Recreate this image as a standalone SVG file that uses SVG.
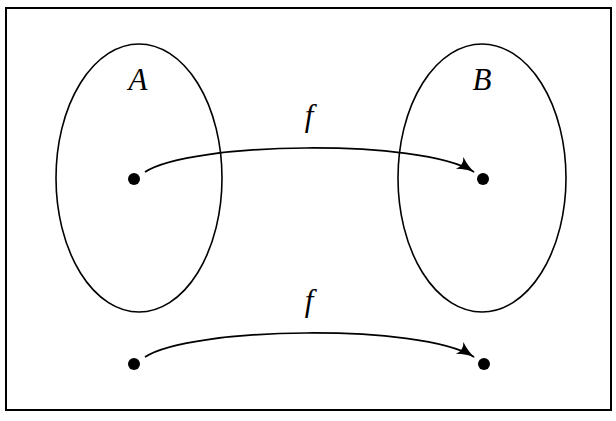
<svg xmlns="http://www.w3.org/2000/svg" width="616" height="421" viewBox="0 0 616 421">
<style>
.set{fill:none;stroke:#000;stroke-width:1.6}
.dot{fill:#000}
.lbl{font-family:'Liberation Serif', 'DejaVu Serif', serif;font-style:italic;font-size:31px;fill:#000;text-anchor:middle}
.edge{fill:none;stroke:#000;stroke-width:1.7;marker-end:url(#arr)}
</style>
<defs>
<marker id="arr" markerWidth="20" markerHeight="16" refX="17" refY="8" orient="auto" markerUnits="userSpaceOnUse">
<path d="M0,1 Q9,6.5 18,8 Q9,9.5 0,15 Q5,8 0,1 Z" fill="#000"/>
</marker>
</defs>
<rect x="6" y="8" width="605" height="402" fill="#fff" stroke="#000" stroke-width="2"/>
<g id="setA">
<ellipse class="set" cx="139" cy="178" rx="83" ry="134"/>
<text class="lbl" x="138" y="90" font-family="Liberation Serif">A</text>
</g>
<g id="setB">
<ellipse class="set" cx="482" cy="178" rx="84" ry="134"/>
<text class="lbl" x="482" y="90" font-family="Liberation Serif">B</text>
</g>
<g id="a1"><circle class="dot" cx="134" cy="179" r="6"/></g>
<g id="b1"><circle class="dot" cx="483" cy="179" r="6"/></g>
<g id="a2"><circle class="dot" cx="134" cy="364" r="6"/></g>
<g id="b2"><circle class="dot" cx="484" cy="364" r="6"/></g>
<g id="connectors">
<path class="edge" d="M145,172 C190,142 420,138 474,172"/>
<text class="lbl" x="309" y="126" font-family="Liberation Serif">f</text>
<path class="edge" d="M145,357 C190,327 420,323 474,357"/>
<text class="lbl" x="309" y="311" font-family="Liberation Serif">f</text>
</g>
</svg>
